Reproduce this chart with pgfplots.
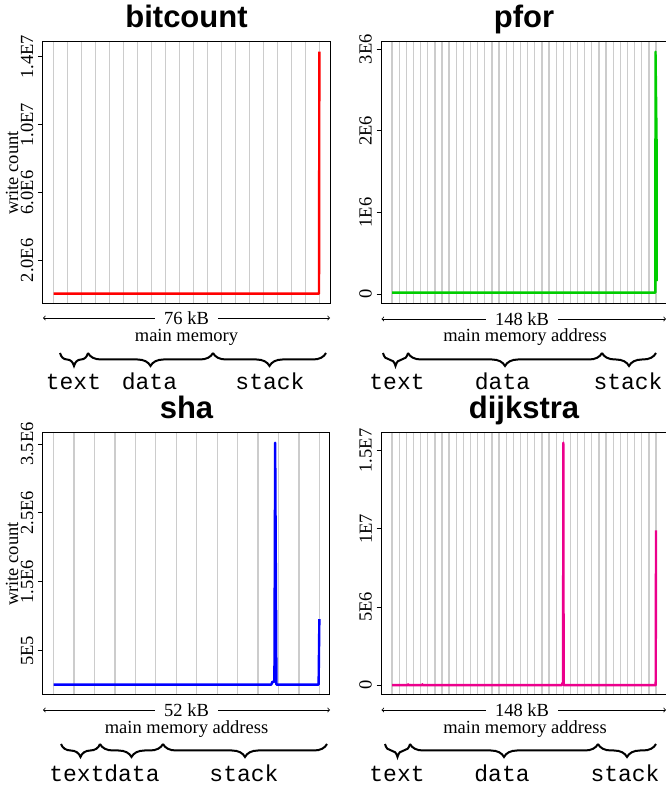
\documentclass[border=0pt]{standalone}
\usepackage{fontspec}
\setmainfont{Liberation Serif}
\setsansfont{Liberation Sans}
\setmonofont{Liberation Mono}
\usepackage{pgfplots}
\pgfplotsset{compat=1.18}
\usepackage{pgfplotstable}
\usetikzlibrary{decorations.pathreplacing}

\definecolor{gridgray}{RGB}{204,204,204}
\definecolor{pgreen}{RGB}{0,205,0}

\newcommand\labfont{\fontsize{18.5}{20}\selectfont}
\newcommand\titfont{\sffamily\bfseries\fontsize{31}{34}\selectfont}
\newcommand\monfont{\ttfamily\fontsize{23}{25}\selectfont}

\pgfplotstableread{
x y
0 0.04e6
75.9 0.04e6
76.0 14.3e6
}\bitcountdata
\pgfplotstableread{
x y
0 0.02e6
147.6 0.02e6
147.7 2.97e6
148.4 1.68e6
148.4 0.16e6
}\pfordata
\pgfplotstableread{
x y
0 0.01e6
42.6 0.01e6
42.8 0.05e6
43.2 0.05e6
43.35 3.52e6
43.6 0.01e6
51.85 0.01e6
52.0 0.96e6
}\shadata
\pgfplotstableread{
x y
0 0.01e6
8.8 0.01e6
9.0 0.06e6
9.2 0.01e6
16.8 0.01e6
17.0 0.06e6
17.2 0.01e6
95.3 0.01e6
95.5 0.15e6
95.9 0.15e6
96.0 15.5e6
96.2 0.01e6
147.8 0.01e6
148.0 9.9e6
}\dijkstradata

\pgfplotsset{
  memax/.style={
    scale only axis,
    anchor=south west,
    height=262pt,
    axis line style={line width=1pt},
    xmajorgrids,
    grid style={gridgray, line width=1.3pt},
    xticklabel=\empty,
    x tick style={draw=none},
    tick align=outside,
    ytick pos=left,
    major tick length=5pt,
    y tick style={black, line width=1pt},
    scaled y ticks=false,
    tick label style={font=\labfont},
    yticklabel style={xshift=-4.5pt, rotate=90, anchor=south, inner sep=0pt},
  },
  dline/.style={line width=2.4pt, line join=round, no marks},
}

\begin{document}
\begin{tikzpicture}
% ---------- bitcount ----------
\begin{axis}[memax, at={(43pt,485pt)}, width=287pt,
  xmin=-3.04, xmax=79.04, ymin=-0.572e6, ymax=14.872e6,
  xtick={0,4,...,76},
  ytick={2e6,6e6,10e6,14e6}, yticklabels={2.0E6,6.0E6,1.0E7,1.4E7}]
\addplot[dline, red] table {\bitcountdata};
\end{axis}
% ---------- pfor ----------
\begin{axis}[memax, at={(381.5pt,485pt)}, width=285.1pt,
  xmin=-5.92, xmax=153.92, ymin=-0.119e6, ymax=3.089e6,
  xtick={0,4,...,148},
  ytick={0,1e6,2e6,3e6}, yticklabels={0,1E6,2E6,3E6}]
\addplot[dline, pgreen] table {\pfordata};
\end{axis}
% ---------- sha ----------
\begin{axis}[memax, at={(43pt,94pt)}, width=287pt,
  xmin=-2.08, xmax=54.08, ymin=-0.141e6, ymax=3.661e6,
  xtick={0,4,...,52},
  ytick={0.5e6,1.5e6,2.5e6,3.5e6}, yticklabels={5E5,1.5E6,2.5E6,3.5E6}]
\addplot[dline, blue] table {\shadata};
\end{axis}
% ---------- dijkstra ----------
\begin{axis}[memax, at={(381.5pt,94pt)}, width=285.1pt,
  xmin=-5.92, xmax=153.92, ymin=-0.62e6, ymax=16.12e6,
  xtick={0,4,...,148},
  ytick={0,5e6,10e6,15e6}, yticklabels={0,5E6,1E7,1.5E7}]
\addplot[dline, magenta] table {\dijkstradata};
\end{axis}

% titles
\node[anchor=base, font=\titfont] at (186.5pt,761pt) {bitcount};
\node[anchor=base, font=\titfont] at (524pt,761pt) {pfor};
\node[anchor=base, font=\titfont] at (186.5pt,370pt) {sha};
\node[anchor=base, font=\titfont] at (524pt,370pt) {dijkstra};

% y labels
\node[rotate=90, anchor=base, font=\labfont] at (18pt,616pt) {write count};
\node[rotate=90, anchor=base, font=\labfont] at (18pt,225pt) {write count};

% size arrows
\draw[<->, line width=0.8pt] (43pt,471pt) -- (330pt,471pt);
\node[fill=white, inner xsep=9pt, inner ysep=0pt, font=\labfont] at (186.5pt,471pt) {76 kB};
\draw[<->, line width=0.8pt] (381.5pt,470pt) -- (666pt,470pt);
\node[fill=white, inner xsep=9pt, inner ysep=0pt, font=\labfont] at (522pt,470pt) {148 kB};
\draw[<->, line width=0.8pt] (43pt,79pt) -- (330pt,79pt);
\node[fill=white, inner xsep=9pt, inner ysep=0pt, font=\labfont] at (186.5pt,79pt) {52 kB};
\draw[<->, line width=0.8pt] (381.5pt,79pt) -- (666pt,79pt);
\node[fill=white, inner xsep=9pt, inner ysep=0pt, font=\labfont] at (522pt,79pt) {148 kB};

% axis names
\node[anchor=base, font=\labfont] at (186.5pt,447pt) {main memory};
\node[anchor=base, font=\labfont] at (525pt,447pt) {main memory address};
\node[anchor=base, font=\labfont] at (186.5pt,55pt) {main memory address};
\node[anchor=base, font=\labfont] at (525pt,55pt) {main memory address};

% braces
\tikzset{br/.style={decorate, decoration={brace, amplitude=13pt, mirror}, line width=2pt}}
\draw[br] (60pt,436pt) -- (88pt,436pt);
\draw[br] (88pt,436pt) -- (213pt,436pt);
\draw[br] (213pt,436pt) -- (326pt,436pt);
\draw[br] (383pt,436pt) -- (408pt,436pt);
\draw[br] (408pt,436pt) -- (602pt,436pt);
\draw[br] (602pt,436pt) -- (656pt,436pt);
\draw[br] (61pt,45pt) -- (100pt,45pt);
\draw[br] (100pt,45pt) -- (163pt,45pt);
\draw[br] (163pt,45pt) -- (327pt,45pt);
\draw[br] (385pt,45pt) -- (410pt,45pt);
\draw[br] (410pt,45pt) -- (598pt,45pt);
\draw[br] (598pt,45pt) -- (656pt,45pt);

% segment names
\node[anchor=base, font=\monfont] at (73.5pt,399pt) {text};
\node[anchor=base, font=\monfont] at (149.5pt,399pt) {data};
\node[anchor=base, font=\monfont] at (270pt,399pt) {stack};
\node[anchor=base, font=\monfont] at (397pt,399pt) {text};
\node[anchor=base, font=\monfont] at (502.5pt,399pt) {data};
\node[anchor=base, font=\monfont] at (628pt,399pt) {stack};
\node[anchor=base, font=\monfont] at (77pt,7.3pt) {text};
\node[anchor=base, font=\monfont] at (132pt,7.3pt) {data};
\node[anchor=base, font=\monfont] at (244pt,7.3pt) {stack};
\node[anchor=base, font=\monfont] at (397pt,7.3pt) {text};
\node[anchor=base, font=\monfont] at (502pt,7.3pt) {data};
\node[anchor=base, font=\monfont] at (625pt,7.3pt) {stack};

\pgfresetboundingbox
\path[use as bounding box] (0pt,0pt) rectangle (665pt,789pt);
\end{tikzpicture}
\end{document}
